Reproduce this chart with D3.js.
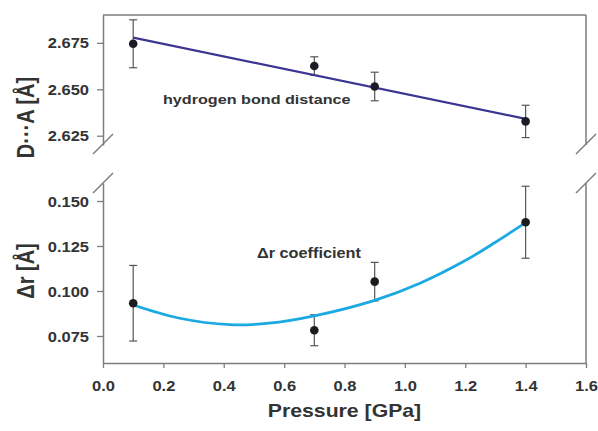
<!DOCTYPE html>
<html>
<head>
<meta charset="utf-8">
<script src="https://cdn.jsdelivr.net/npm/d3@7"></script>
<style>
  html, body { margin: 0; padding: 0; background: #fff; }
  svg { display: block; }
  text { font-family: "Liberation Sans", Arial, sans-serif; font-weight: bold; fill: #333; }
</style>
</head>
<body>
<svg id="chart" width="598" height="431"></svg>
<script>
// ---- data ----
const pressure = [0.1, 0.7, 0.9, 1.4];
const distance = [2.6745, 2.6625, 2.6515, 2.6327];
const distanceErr = [0.0129, 0.005, 0.0077, 0.0087];
const deltaR = [0.0932, 0.0782, 0.1052, 0.1382];
const deltaRErr = [0.021, 0.0086, 0.0107, 0.020];
// fitted lines
const distFitP = [0.1, 1.4];
const distFitV = [2.6778, 2.6341];
const drFitP = [0.1, 0.25, 0.42, 0.55, 0.7, 0.9, 1.05, 1.2, 1.3, 1.4];
const drFitV = [0.0922, 0.0850, 0.0813, 0.0821, 0.0862, 0.0948, 0.1043, 0.1169, 0.1271, 0.1380];
// ticks
const xTicks = [0.0, 0.2, 0.4, 0.6, 0.8, 1.0, 1.2, 1.4, 1.6];
const topTicks = [2.625, 2.650, 2.675];
const botTicks = [0.075, 0.100, 0.125, 0.150];

// ---- layout ----
const SX = 1.18; // horizontal text stretch of the original
const svg = d3.select("#chart");
const x = d3.scaleLinear().domain([0, 1.6]).range([103, 586]);
const yTop = d3.scaleLinear().domain([2.62, 2.69]).range([145, 15]);
const yBot = d3.scaleLinear().domain([0.06, 0.16]).range([363, 183]);
const axisColor = "#7d7d7d";

function styleAxis(g) {
  g.selectAll("path.domain").attr("stroke", axisColor).attr("stroke-width", 1.5);
  g.selectAll(".tick line").attr("stroke", axisColor).attr("stroke-width", 1.3);
  g.selectAll(".tick text").attr("fill", "#333").attr("font-size", 14)
    .attr("font-family", '"Liberation Sans", Arial, sans-serif').attr("font-weight", "bold");
}

// left axes
const gTop = svg.append("g").attr("transform", `translate(${x(0)},0)`)
  .call(d3.axisLeft(yTop).tickValues(topTicks).tickSize(6).tickSizeOuter(0).tickFormat(d3.format(".3f")));
styleAxis(gTop);
gTop.selectAll(".tick text").attr("x", 0).attr("dy", "0.36em").attr("transform", `translate(-14,0) scale(${SX},1)`);

const gBot = svg.append("g").attr("transform", `translate(${x(0)},0)`)
  .call(d3.axisLeft(yBot).tickValues(botTicks).tickSize(6).tickSizeOuter(0).tickFormat(d3.format(".3f")));
styleAxis(gBot);
gBot.selectAll(".tick text").attr("x", 0).attr("dy", "0.36em").attr("transform", `translate(-14,0) scale(${SX},1)`);

// bottom axis
const gX = svg.append("g").attr("transform", `translate(0,${yBot(0.06)})`)
  .call(d3.axisBottom(x).tickValues(xTicks).tickSize(5).tickSizeOuter(0).tickFormat(d3.format(".1f")));
styleAxis(gX);
gX.selectAll(".tick text").attr("y", 0).attr("dy", 0).attr("transform", `translate(0,27.5) scale(${SX},1)`);

// right and top frame lines
svg.append("line").attr("x1", x(0)).attr("x2", x(1.6)).attr("y1", yTop(2.69)).attr("y2", yTop(2.69))
  .attr("stroke", axisColor).attr("stroke-width", 1.5);
svg.append("line").attr("x1", x(1.6)).attr("x2", x(1.6)).attr("y1", yTop(2.69)).attr("y2", yTop(2.62))
  .attr("stroke", axisColor).attr("stroke-width", 1.5);
svg.append("line").attr("x1", x(1.6)).attr("x2", x(1.6)).attr("y1", yBot(0.16)).attr("y2", yBot(0.06))
  .attr("stroke", axisColor).attr("stroke-width", 1.5);

// break marks
[x(0), x(1.6)].forEach(cx => {
  [yTop(2.62) - 1, yBot(0.16)].forEach(cy => {
    svg.append("line").attr("x1", cx - 10).attr("y1", cy + 10).attr("x2", cx + 10).attr("y2", cy - 10)
      .attr("stroke", axisColor).attr("stroke-width", 1.5);
  });
});

// error bars
function errorBars(vals, errs, y) {
  const g = svg.append("g").attr("stroke", "#555").attr("stroke-width", 1.2);
  pressure.forEach((p, i) => {
    const cx = x(p), y1 = y(vals[i] + errs[i]), y2 = y(vals[i] - errs[i]);
    g.append("line").attr("x1", cx).attr("x2", cx).attr("y1", y1).attr("y2", y2);
    g.append("line").attr("x1", cx - 4).attr("x2", cx + 4).attr("y1", y1).attr("y2", y1);
    g.append("line").attr("x1", cx - 4).attr("x2", cx + 4).attr("y1", y2).attr("y2", y2);
  });
}
errorBars(distance, distanceErr, yTop);
errorBars(deltaR, deltaRErr, yBot);

// fit lines
const lineTop = d3.line().x(d => x(d[0])).y(d => yTop(d[1]));
svg.append("path").datum(d3.zip(distFitP, distFitV)).attr("d", lineTop)
  .attr("fill", "none").attr("stroke", "#3d3592").attr("stroke-width", 2.2);
const lineBot = d3.line().x(d => x(d[0])).y(d => yBot(d[1])).curve(d3.curveCatmullRom.alpha(0.5));
svg.append("path").datum(d3.zip(drFitP, drFitV)).attr("d", lineBot)
  .attr("fill", "none").attr("stroke", "#1ba9e1").attr("stroke-width", 2.8);

// points
svg.append("g").selectAll("circle").data(d3.zip(pressure, distance)).join("circle")
  .attr("cx", d => x(d[0])).attr("cy", d => yTop(d[1])).attr("r", 4.3).attr("fill", "#1c1c28");
svg.append("g").selectAll("circle").data(d3.zip(pressure, deltaR)).join("circle")
  .attr("cx", d => x(d[0])).attr("cy", d => yBot(d[1])).attr("r", 4.3).attr("fill", "#1c1c1c");

// annotations
svg.append("text").attr("transform", `translate(163,104) scale(${SX},1)`)
  .attr("font-size", 13.7).text("hydrogen bond distance");
svg.append("text").attr("transform", `translate(257,258) scale(${SX},1)`)
  .attr("font-size", 13.8).text("\u0394r coefficient");

// axis titles
svg.append("text").attr("transform", `translate(344.5,417) scale(${SX},1)`)
  .attr("text-anchor", "middle").attr("font-size", 18).text("Pressure [GPa]");
svg.append("text").attr("transform", `translate(34,117.5) scale(${SX},1) rotate(-90)`)
  .attr("text-anchor", "middle").attr("font-size", 20).text("D\u00B7\u00B7\u00B7A [\u00C5]");
svg.append("text").attr("transform", `translate(34,271) scale(${SX},1) rotate(-90)`)
  .attr("text-anchor", "middle").attr("font-size", 20).text("\u0394r [\u00C5]");
</script>
</body>
</html>
